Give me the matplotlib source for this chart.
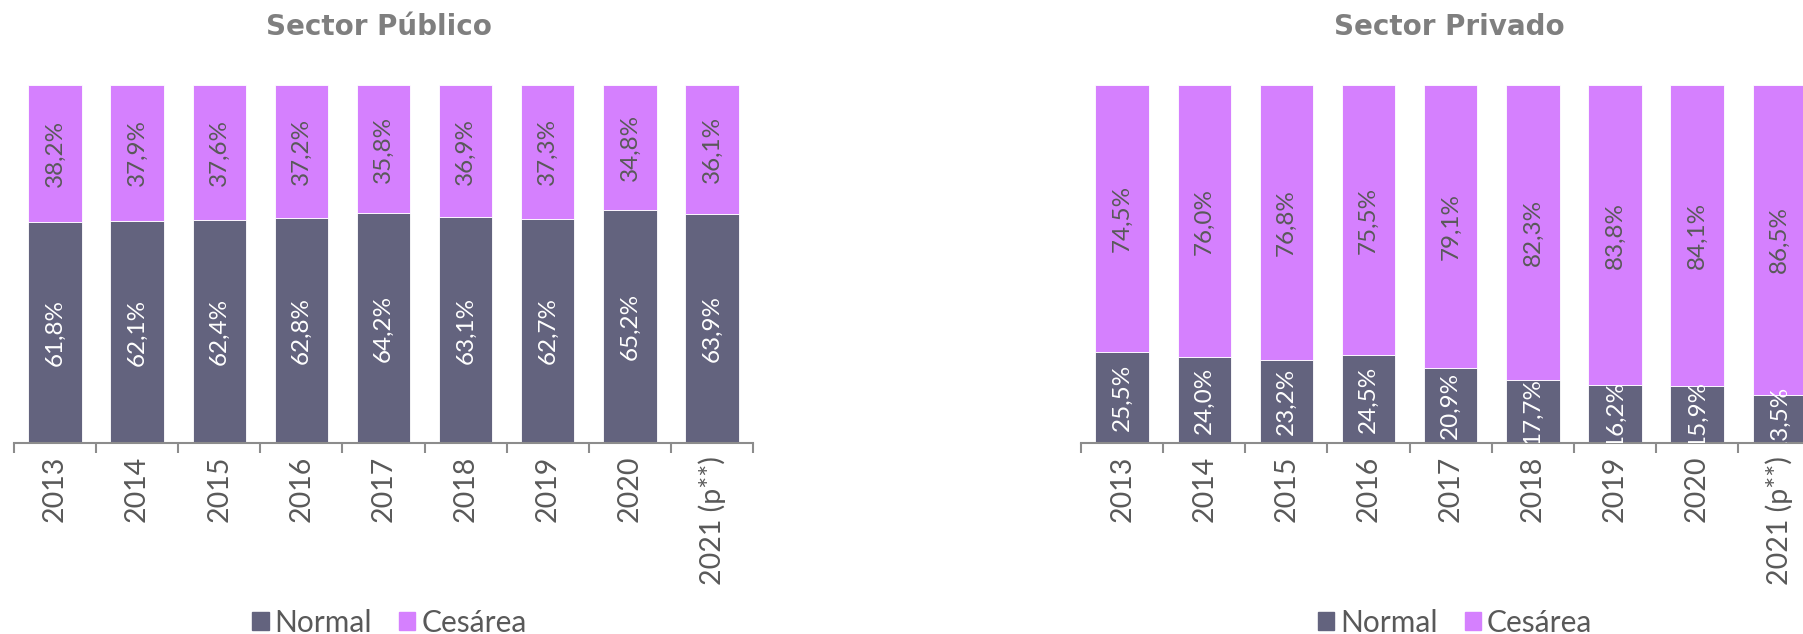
import matplotlib.pyplot as plt
from matplotlib.patches import Patch
import numpy as np

plt.rcParams['font.family'] = ['Lato', 'DejaVu Sans']

years = ['2013', '2014', '2015', '2016', '2017', '2018', '2019', '2020', '2021 (p**)']
pub_normal = [61.8, 62.1, 62.4, 62.8, 64.2, 63.1, 62.7, 65.2, 63.9]
pub_cesarea = [38.2, 37.9, 37.6, 37.2, 35.8, 36.9, 37.3, 34.8, 36.1]
priv_normal = [25.5, 24.0, 23.2, 24.5, 20.9, 17.7, 16.2, 15.9, 13.5]
priv_cesarea = [74.5, 76.0, 76.8, 75.5, 79.1, 82.3, 83.8, 84.1, 86.5]

c_normal = '#63637E'
c_ces = '#D580FE'
gray_txt = '#595959'
gray_axis = '#8C8C8C'


def fmt(v):
    return f"{v:.1f}%".replace('.', ',')


def draw_panel(ax, normal, ces):
    x = np.arange(len(years))
    ax.bar(x, normal, width=0.65, color=c_normal, edgecolor='white', linewidth=0.6)
    ax.bar(x, ces, width=0.65, bottom=normal, color=c_ces, edgecolor='white', linewidth=0.6)
    for i in range(len(x)):
        ax.text(x[i], normal[i] / 2, fmt(normal[i]), rotation=90, ha='center', va='center',
                color='white', fontsize=17.5, clip_on=True)
        ax.text(x[i], normal[i] + ces[i] / 2, fmt(ces[i]), rotation=90, ha='center', va='center',
                color=gray_txt, fontsize=17.5, clip_on=True)
    ax.set_xlim(-0.5, len(x) - 0.5)
    ax.set_ylim(0, 100)
    for s in ['top', 'right', 'left']:
        ax.spines[s].set_visible(False)
    ax.spines['bottom'].set_color(gray_axis)
    ax.spines['bottom'].set_linewidth(1.5)
    ax.set_yticks([])
    ax.set_xticks(x)
    ax.set_xticklabels(years, rotation=90, color=gray_txt, fontsize=20.5)
    ax.set_xticks(np.arange(-0.5, len(x)), minor=True)
    ax.tick_params(axis='x', which='major', length=0, pad=9)
    ax.tick_params(axis='x', which='minor', length=7, width=1.5, color=gray_axis, direction='out')


fig = plt.figure(figsize=(18.03, 6.34), dpi=100)
ax1 = fig.add_axes([0.0077, 0.301, 0.41, 0.565])
ax2 = fig.add_axes([0.5996, 0.301, 0.41, 0.565])

draw_panel(ax1, pub_normal, pub_cesarea)
draw_panel(ax2, priv_normal, priv_cesarea)

fig.text(0.21, 0.957, 'Sector Público', ha='center', va='center', fontsize=20,
         fontweight='bold', color='#7F7F7F', family='DejaVu Sans')
fig.text(0.804, 0.957, 'Sector Privado', ha='center', va='center', fontsize=20,
         fontweight='bold', color='#7F7F7F', family='DejaVu Sans')

handles = [Patch(color=c_normal, label='Normal'), Patch(color=c_ces, label='Cesárea')]
for cx in [0.216, 0.807]:
    fig.legend(handles=handles, loc='center', bbox_to_anchor=(cx, 0.018), ncol=2, frameon=False,
               fontsize=21.5, labelcolor=gray_txt, handlelength=0.55, handleheight=0.55,
               handletextpad=0.2, columnspacing=0.9)

fig.savefig('out.png', dpi=100)
